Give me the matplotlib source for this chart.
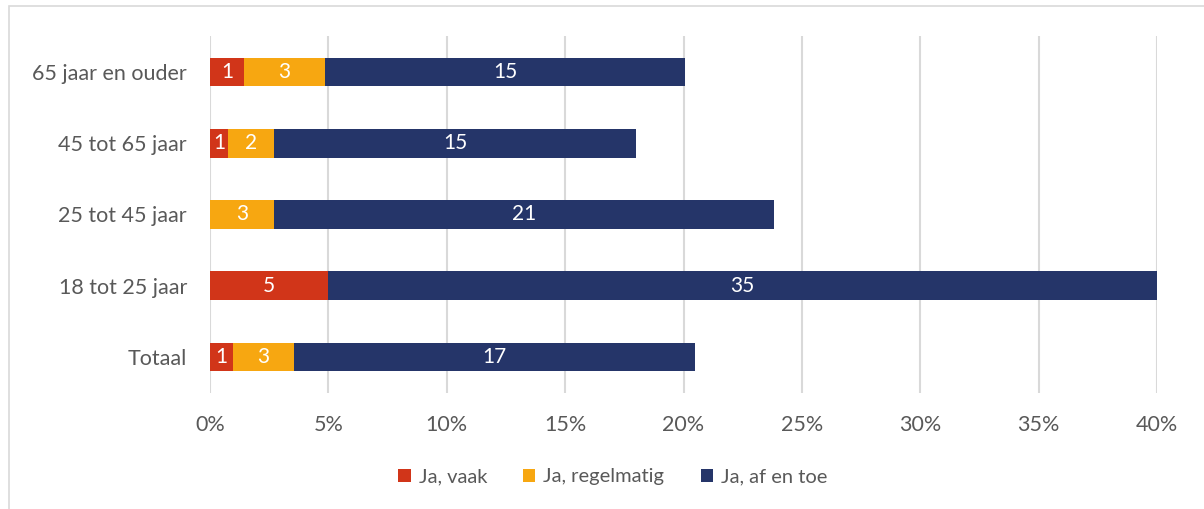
import numpy as np
import matplotlib.pyplot as plt
from matplotlib.patches import Rectangle

# categories from bottom to top
categories = ["Totaal", "18 tot 25 jaar", "25 tot 45 jaar", "45 tot 65 jaar", "65 jaar en ouder"]
series_names = ["Ja, vaak", "Ja, regelmatig", "Ja, af en toe"]
vaak = [0.97, 4.98, 0.0, 0.76, 1.44]
regelmatig = [2.58, 0.0, 2.70, 1.94, 3.42]
af_en_toe = [16.94, 35.02, 21.12, 15.29, 15.20]
colours = ["#D13519", "#F7A711", "#253569"]

plt.rcParams['font.family'] = ['Lato', 'DejaVu Sans']
grey = "#595959"

fig = plt.figure(figsize=(12.04, 5.09), dpi=100)
ax = fig.add_axes([0.1744, 0.2287, 0.7866, 0.6998])

y = np.arange(len(categories))
left = np.zeros(len(categories))
for vals, name, col in zip([vaak, regelmatig, af_en_toe], series_names, colours):
    vals = np.array(vals)
    ax.barh(y, vals, left=left, height=0.4, color=col, label=name, zorder=3)
    for yi, l, v in zip(y, left, vals):
        if v > 0:
            ax.text(l + v / 2, yi, str(int(round(v))), ha="center", va="center",
                    color="white", fontsize=15, zorder=4)
    left = left + vals

ax.set_xlim(0, 40)
ax.set_ylim(-0.5, 4.5)
ax.set_xticks(np.arange(0, 41, 5))
ax.set_xticklabels([f"{t}%" for t in range(0, 41, 5)])
ax.set_yticks(y)
ax.set_yticklabels(categories)
ax.tick_params(axis="both", length=0, labelsize=15.5, labelcolor=grey)
ax.tick_params(axis="x", pad=16)
ax.tick_params(axis="y", pad=16.5)
ax.grid(axis="x", color="#D9D9D9", linewidth=1.5, zorder=0)
for s in ax.spines.values():
    s.set_visible(False)

leg = fig.legend(loc="center", bbox_to_anchor=(0.509, 0.063), ncol=3, frameon=False,
                 fontsize=14.5, handlelength=0.6, handleheight=0.6, handletextpad=0.4,
                 columnspacing=1.8)
for t in leg.get_texts():
    t.set_color(grey)

# chart border
fig.patches.append(Rectangle((9 / 1204, -0.1), 1.2, 1 - 6 / 509 + 0.1,
                             transform=fig.transFigure, fill=False,
                             edgecolor="#D9D9D9", linewidth=1.2))

fig.savefig("out.png", dpi=100)
